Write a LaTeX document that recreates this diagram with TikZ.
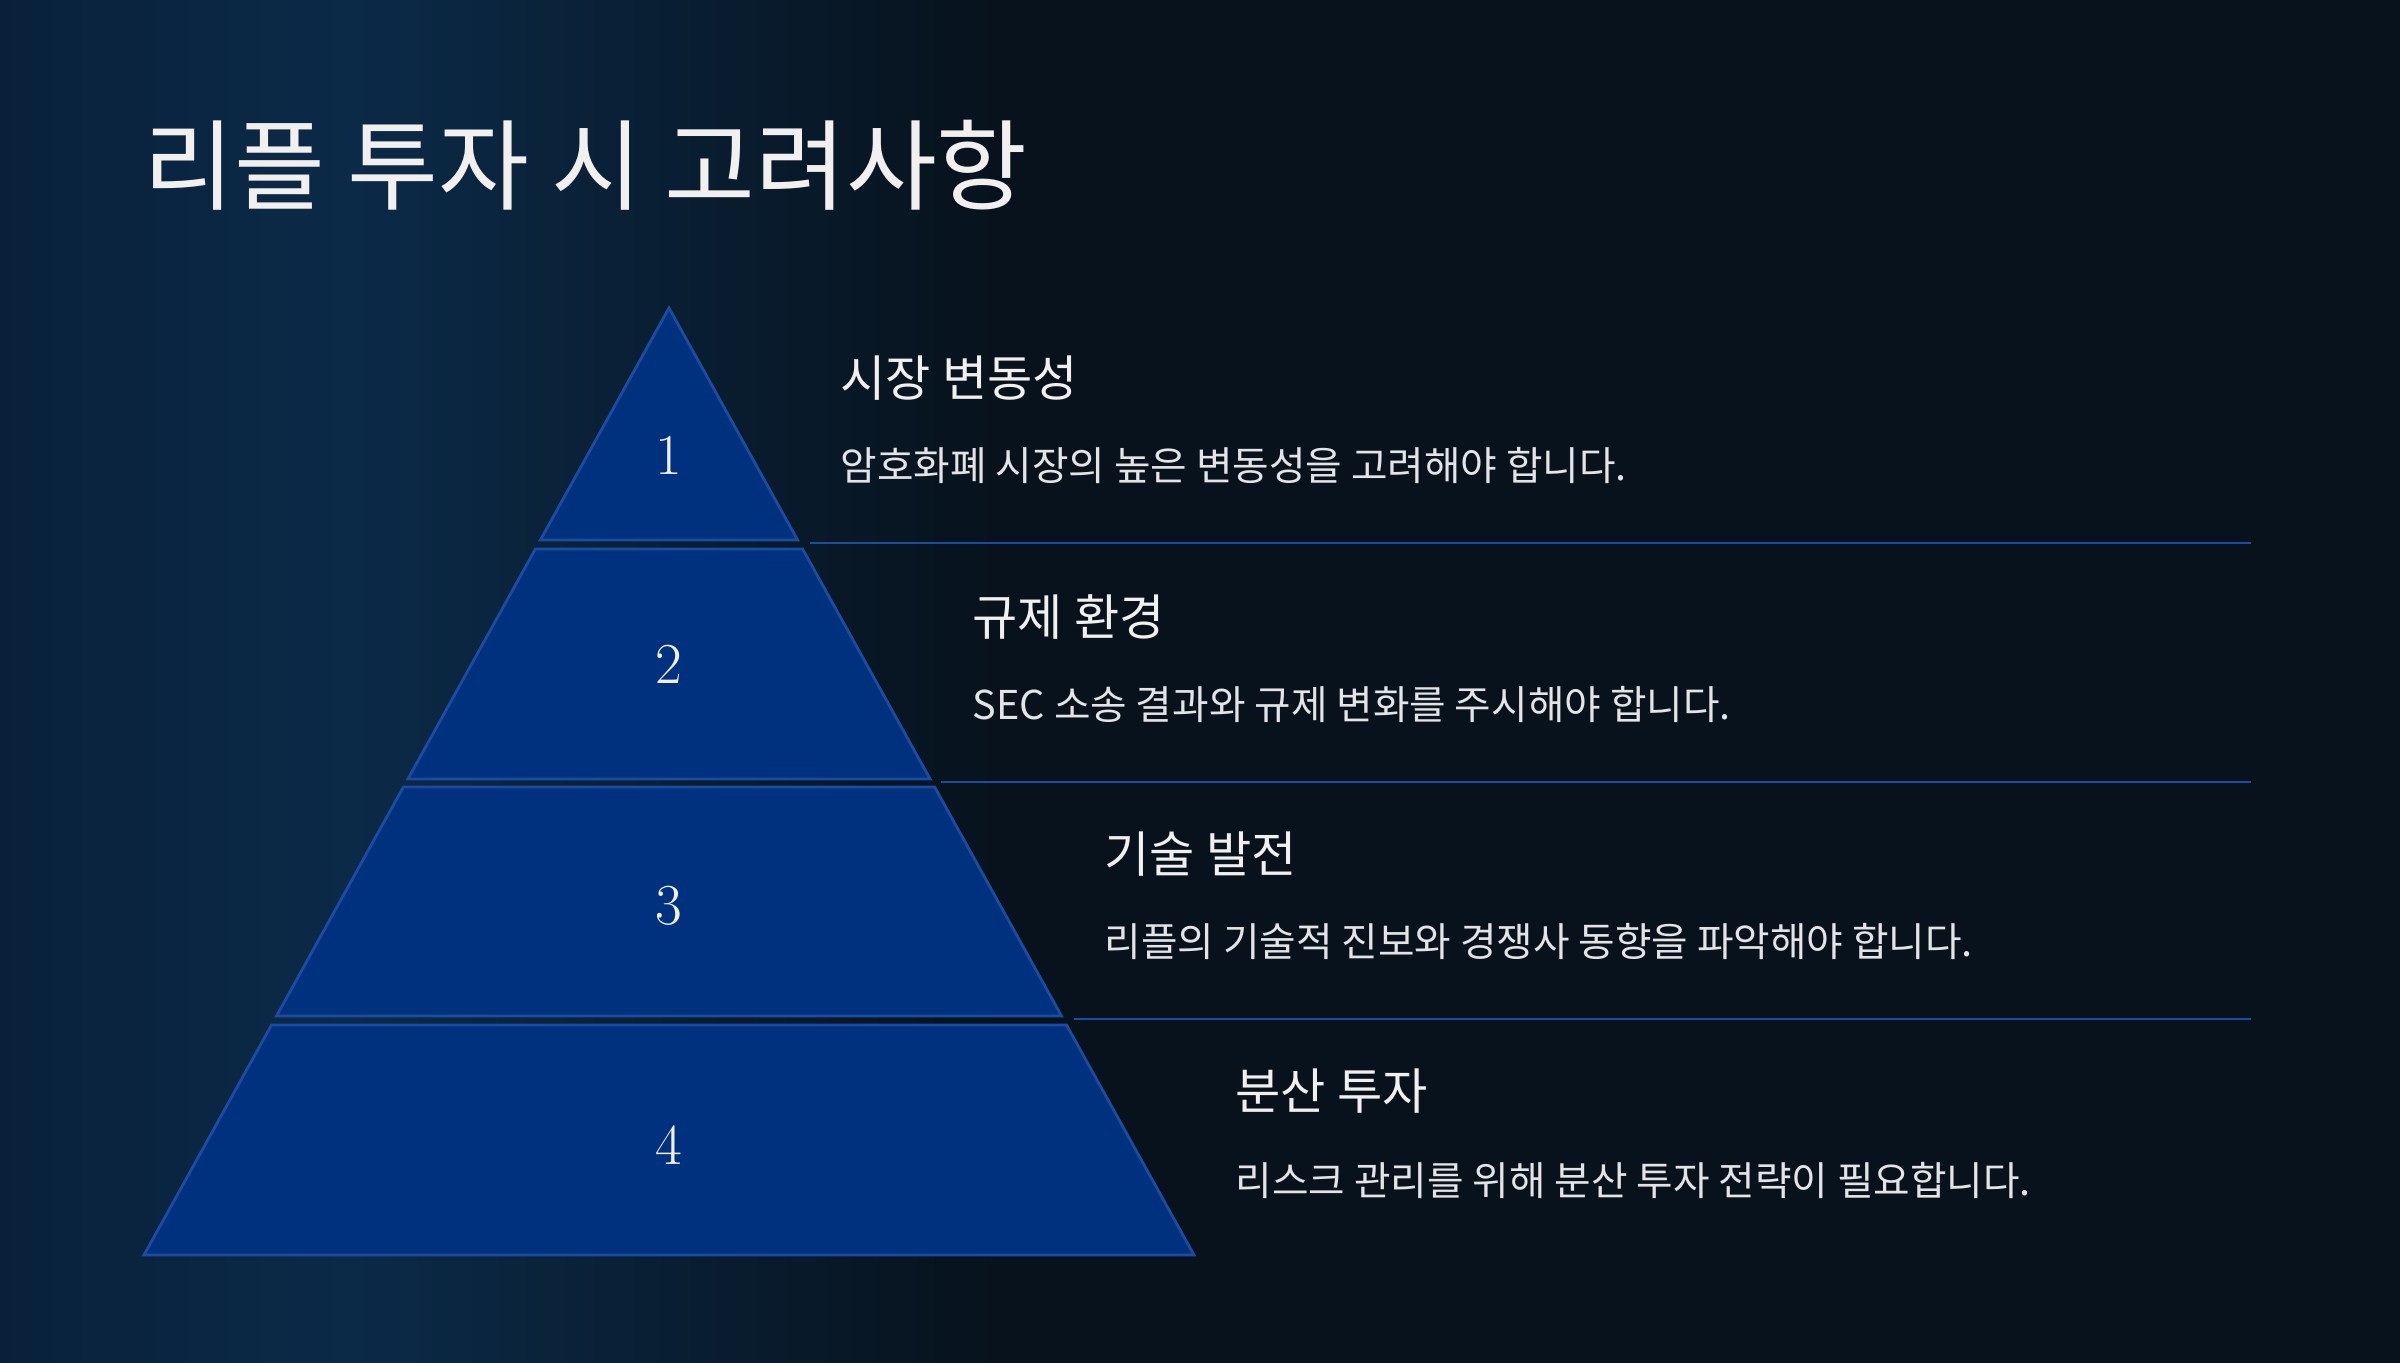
\documentclass[tikz,border=0pt]{standalone}
\usepackage{tikz}
\usetikzlibrary{positioning,calc}
\usepackage{xcolor}
\usepackage{fontspec}
\newfontfamily\krfont{Noto Sans CJK KR}
\definecolor{bgdark}{HTML}{07121C}
\definecolor{bgglow}{HTML}{0B2A48}
\definecolor{bgmid}{HTML}{09203A}
\definecolor{tierblue}{HTML}{00317F}
\definecolor{tieredge}{HTML}{1D4BA0}
\definecolor{headwhite}{HTML}{F2EFEF}
\definecolor{descgray}{HTML}{E4E4E6}
\tikzset{
  tier/.style={fill=tierblue, draw=tieredge, line width=0.8pt, line join=miter},
  sepline/.style={draw=tieredge, line width=0.8pt},
  numtxt/.style={text=headwhite, inner sep=0pt, font=\fontsize{16.5}{18}\selectfont},
  titletxt/.style={anchor=west, inner sep=0pt, text=headwhite, font=\krfont\fontsize{28.1}{32}\selectfont},
  headtxt/.style={anchor=west, inner sep=0pt, text=headwhite, font=\krfont\fontsize{14}{16}\selectfont},
  desctxt/.style={anchor=west, inner sep=0pt, text=descgray, font=\krfont\fontsize{11.3}{13}\selectfont}
}

\begin{document}
\begin{tikzpicture}
  \useasboundingbox (0,0) rectangle (24,-13.62);
  % background
  \fill[bgdark] (-0.1,0.1) rectangle (24.1,-13.72);
  \shade[left color=bgmid, right color=bgglow] (-0.1,0.1) rectangle (3.5,-13.72);
  \shade[left color=bgglow, right color=bgdark] (3.5,0.1) rectangle (10,-13.72);

  \node[titletxt] (title) at (1.43,-1.65) {리플 투자 시 고려사항};

  % pyramid tiers
  \draw[tier] (6.69,-3.08) -- (7.976,-5.40) -- (5.404,-5.40) -- cycle;
  \draw[tier] (5.354,-5.49) -- (8.026,-5.49) -- (9.301,-7.79) -- (4.079,-7.79) -- cycle;
  \draw[tier] (4.034,-7.87) -- (9.346,-7.87) -- (10.615,-10.16) -- (2.765,-10.16) -- cycle;
  \draw[tier] (2.715,-10.25) -- (10.665,-10.25) -- (11.94,-12.55) -- (1.44,-12.55) -- cycle;

  \node[numtxt] (n1) at (6.69,-4.55) {1};
  \node[numtxt] (n2) at (6.69,-6.64) {2};
  \node[numtxt] (n3) at (6.69,-9.06) {3};
  \node[numtxt] (n4) at (6.69,-11.45) {4};

  % separators
  \coordinate (s1a) at (8.10,-5.43);  \coordinate (s1b) at (22.51,-5.43);
  \coordinate (s2a) at (9.41,-7.82);  \coordinate (s2b) at (22.51,-7.82);
  \coordinate (s3a) at (10.74,-10.19); \coordinate (s3b) at (22.51,-10.19);
  \draw[sepline] (s1a) -- (s1b);
  \draw[sepline] (s2a) -- (s2b);
  \draw[sepline] (s3a) -- (s3b);

  % texts
  \node[headtxt] (h1) at (8.40,-3.78) {시장 변동성};
  \node[desctxt] (d1) at (8.40,-4.65) {암호화폐 시장의 높은 변동성을 고려해야 합니다.};
  \node[headtxt] (h2) at (9.72,-6.17) {규제 환경};
  \node[desctxt] (d2) at (9.72,-7.04) {SEC 소송 결과와 규제 변화를 주시해야 합니다.};
  \node[headtxt] (h3) at (11.04,-8.54) {기술 발전};
  \node[desctxt] (d3) at (11.04,-9.41) {리플의 기술적 진보와 경쟁사 동향을 파악해야 합니다.};
  \node[headtxt] (h4) at (12.35,-10.91) {분산 투자};
  \node[desctxt] (d4) at (12.35,-11.80) {리스크 관리를 위해 분산 투자 전략이 필요합니다.};
\end{tikzpicture}
\end{document}
